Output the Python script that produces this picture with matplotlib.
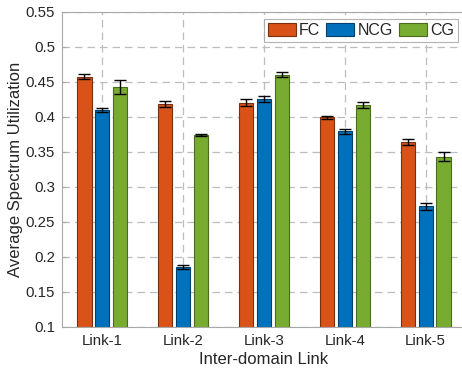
import matplotlib
matplotlib.use("Agg")
import matplotlib.pyplot as plt
import numpy as np

plt.rcParams['font.family'] = ['Liberation Sans', 'DejaVu Sans']

links = ['Link-1', 'Link-2', 'Link-3', 'Link-4', 'Link-5']
series = ['FC', 'NCG', 'CG']
fc = [0.457, 0.418, 0.420, 0.399, 0.364]
ncg = [0.409, 0.186, 0.425, 0.379, 0.272]
cg = [0.442, 0.374, 0.460, 0.417, 0.343]
fc_err = [0.0035, 0.004, 0.005, 0.0017, 0.0045]
ncg_err = [0.003, 0.003, 0.004, 0.0035, 0.0055]
cg_err = [0.0098, 0.002, 0.0033, 0.004, 0.0064]
yticks = [0.1, 0.15, 0.2, 0.25, 0.3, 0.35, 0.4, 0.45, 0.5, 0.55]
ytick_labels = ['0.1', '0.15', '0.2', '0.25', '0.3', '0.35', '0.4', '0.45', '0.5', '0.55']

colors = ['#D95319', '#0072BD', '#77AC30']
edges = ['#7a3010', '#003f6a', '#4a6b1e']
text_c = '#262626'
axis_c = '#a8a8a8'

W, H = 462, 372
fig = plt.figure(figsize=(W / 100, H / 100), dpi=100)
ax = fig.add_axes([0.1342, 0.121, 0.8745, 0.848])

x = np.arange(1, len(links) + 1)
width = 0.175
offsets = [-0.222, 0.0, 0.222]
vals = [fc, ncg, cg]
errs = [fc_err, ncg_err, cg_err]
for i in range(3):
    ax.bar(x + offsets[i], vals[i], width, color=colors[i], edgecolor=edges[i],
           linewidth=0.8, label=series[i], zorder=2)
    ax.errorbar(x + offsets[i], vals[i], yerr=errs[i], fmt='none', ecolor='black',
                elinewidth=1.0, capsize=4.5, capthick=1.0, zorder=3)

ax.set_xlim(0.5, 5.5)
ax.set_ylim(0.1, 0.55)
ax.set_xticks(x)
ax.set_xticklabels(links)
ax.set_yticks(yticks)
ax.set_yticklabels(ytick_labels)

ax.grid(True, which='major', color='#bdbdbd', linestyle=(0, (6, 4)), linewidth=0.9, zorder=0)
ax.set_axisbelow(True)

for s in ax.spines.values():
    s.set_color(axis_c)
    s.set_linewidth(0.8)

ax.tick_params(direction='in', length=3, color=axis_c, labelsize=10.8, labelcolor=text_c,
               top=False, right=False, pad=5)

ax.set_xlabel('Inter-domain Link', fontsize=12, color=text_c, labelpad=3)
ax.set_ylabel('Average Spectrum Utilization', fontsize=12, color=text_c, labelpad=2)

handles, labels = ax.get_legend_handles_labels()
leg = fig.legend(handles, labels, loc='upper right',
                 bbox_to_anchor=(458 / W, 1 - 19.5 / H), ncol=3, fontsize=11.5,
                 frameon=True, fancybox=False, handlelength=1.75, handleheight=0.85,
                 handletextpad=0.2, columnspacing=0.4, borderpad=0.22, borderaxespad=0)
leg.get_frame().set_edgecolor('#a0a0a0')
leg.get_frame().set_linewidth(0.8)
for t in leg.get_texts():
    t.set_color(text_c)

fig.savefig('out.png', dpi=100)
